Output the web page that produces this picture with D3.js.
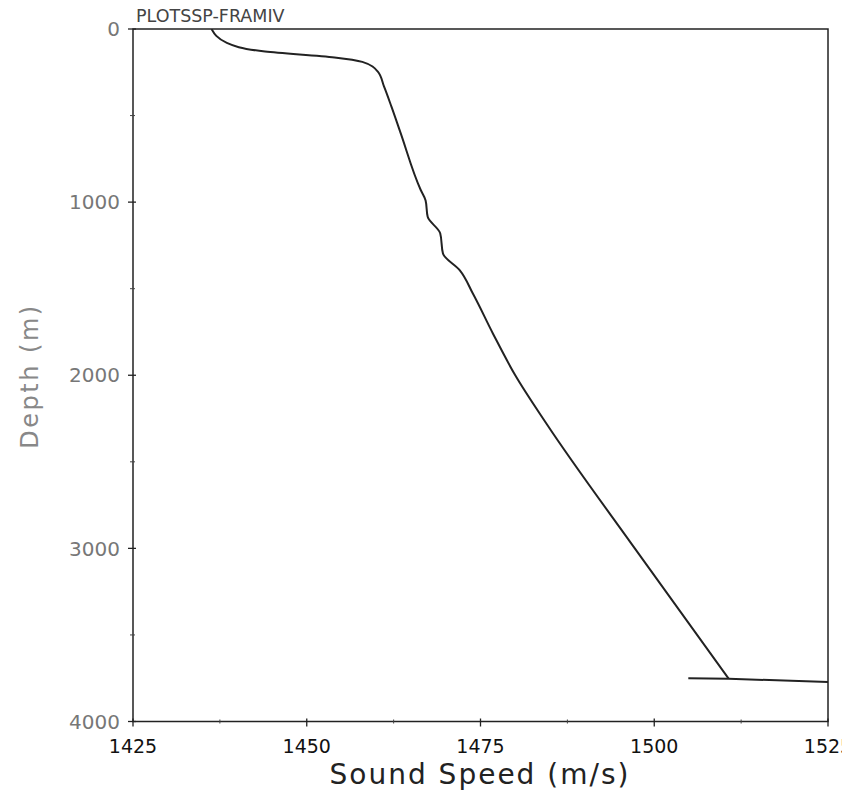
<!DOCTYPE html>
<html><head><meta charset="utf-8">
<script src="https://cdn.jsdelivr.net/npm/d3@7"></script>
<style>body{margin:0;background:#fff;overflow:hidden}svg{display:block}text{font-family:"DejaVu Sans",sans-serif}</style>
</head><body>
<svg id="c" width="842" height="796"></svg>
<script>
// Sound speed profile (m/s) vs depth (m)
const profileSpeed = [1436.3,1438.5,1444.0,1454.0,1458.0,1460.2,1461.1,1462.2,1463.5,1466.4,1467.1,1467.4,1469.2,1469.6,1472.0,1473.9,1476.8,1480.0,1484.5,1497.2,1510.7];
const profileDepth = [0,80,130,164,190,245,330,450,600,930,990,1085,1180,1297,1393,1528,1760,2000,2280,3000,3752];
// bottom layer line
const bottomSpeed = [1504.9,1510.7,1525.0];
const bottomDepth = [3750,3753,3772];
const xTicks = [1425,1450,1475,1500,1525];
const yTicks = [0,1000,2000,3000,4000];
const title = "PLOTSSP-FRAMIV";
const xLabel = "Sound Speed (m/s)";
const yLabel = "Depth (m)";

const L=133,R=828,T=29,B=721.5;
const svg=d3.select("#c");
const x=d3.scaleLinear().domain([1425,1525]).range([L,R]);
const y=d3.scaleLinear().domain([0,4000]).range([T,B]);

// frame
svg.append("rect").attr("x",L).attr("y",T).attr("width",R-L).attr("height",B-T)
  .attr("fill","none").attr("stroke","#222").attr("stroke-width",1.5);

// x ticks
const xMinor=d3.range(1437.5,1525,25);
const gx=svg.append("g");
xTicks.forEach(v=>gx.append("line").attr("x1",x(v)).attr("x2",x(v)).attr("y1",B-3).attr("y2",B+5).attr("stroke","#222").attr("stroke-width",1.3));
xMinor.forEach(v=>gx.append("line").attr("x1",x(v)).attr("x2",x(v)).attr("y1",B-2).attr("y2",B+2).attr("stroke","#444").attr("stroke-width",1));
xTicks.forEach(v=>gx.append("text").attr("x",x(v)).attr("y",B+31).attr("text-anchor","middle")
  .attr("font-size",19).attr("fill","#111").text(v));

// y ticks
const yMinor=d3.range(500,4000,1000);
const gy=svg.append("g");
yTicks.forEach(v=>gy.append("line").attr("x1",L-5).attr("x2",L+3).attr("y1",y(v)).attr("y2",y(v)).attr("stroke","#222").attr("stroke-width",1.3));
yMinor.forEach(v=>gy.append("line").attr("x1",L-3).attr("x2",L+2).attr("y1",y(v)).attr("y2",y(v)).attr("stroke","#444").attr("stroke-width",1));
yTicks.forEach(v=>gy.append("text").attr("x",L-13).attr("y",y(v)).attr("dy","0.36em").attr("text-anchor","end")
  .attr("font-size",20).attr("fill","#777").text(v));

// labels
svg.append("text").attr("x",480).attr("y",784).attr("text-anchor","middle")
  .attr("font-size",28).attr("fill","#222").attr("letter-spacing",2).text(xLabel);
svg.append("text").attr("transform",`translate(38,${376}) rotate(-90)`).attr("text-anchor","middle")
  .attr("font-size",24).attr("fill","#888").attr("letter-spacing",2.5).text(yLabel);
svg.append("text").attr("x",L+3).attr("y",T-7).attr("font-size",17.5).attr("fill","#444").text(title);

// curves
const line=d3.line().x(d=>x(d[0])).y(d=>y(d[1])).curve(d3.curveMonotoneY);
svg.append("defs").append("clipPath").attr("id","clip").append("rect").attr("x",L).attr("y",T).attr("width",R-L).attr("height",B-T);
svg.append("path").datum(profileSpeed.map((s,i)=>[s,profileDepth[i]])).attr("d",line)
  .attr("fill","none").attr("stroke","#222").attr("stroke-width",2).attr("clip-path","url(#clip)");
svg.append("path").datum(bottomSpeed.map((s,i)=>[s,bottomDepth[i]])).attr("d",d3.line().x(d=>x(d[0])).y(d=>y(d[1])))
  .attr("fill","none").attr("stroke","#222").attr("stroke-width",2).attr("clip-path","url(#clip)");
</script>
</body></html>
